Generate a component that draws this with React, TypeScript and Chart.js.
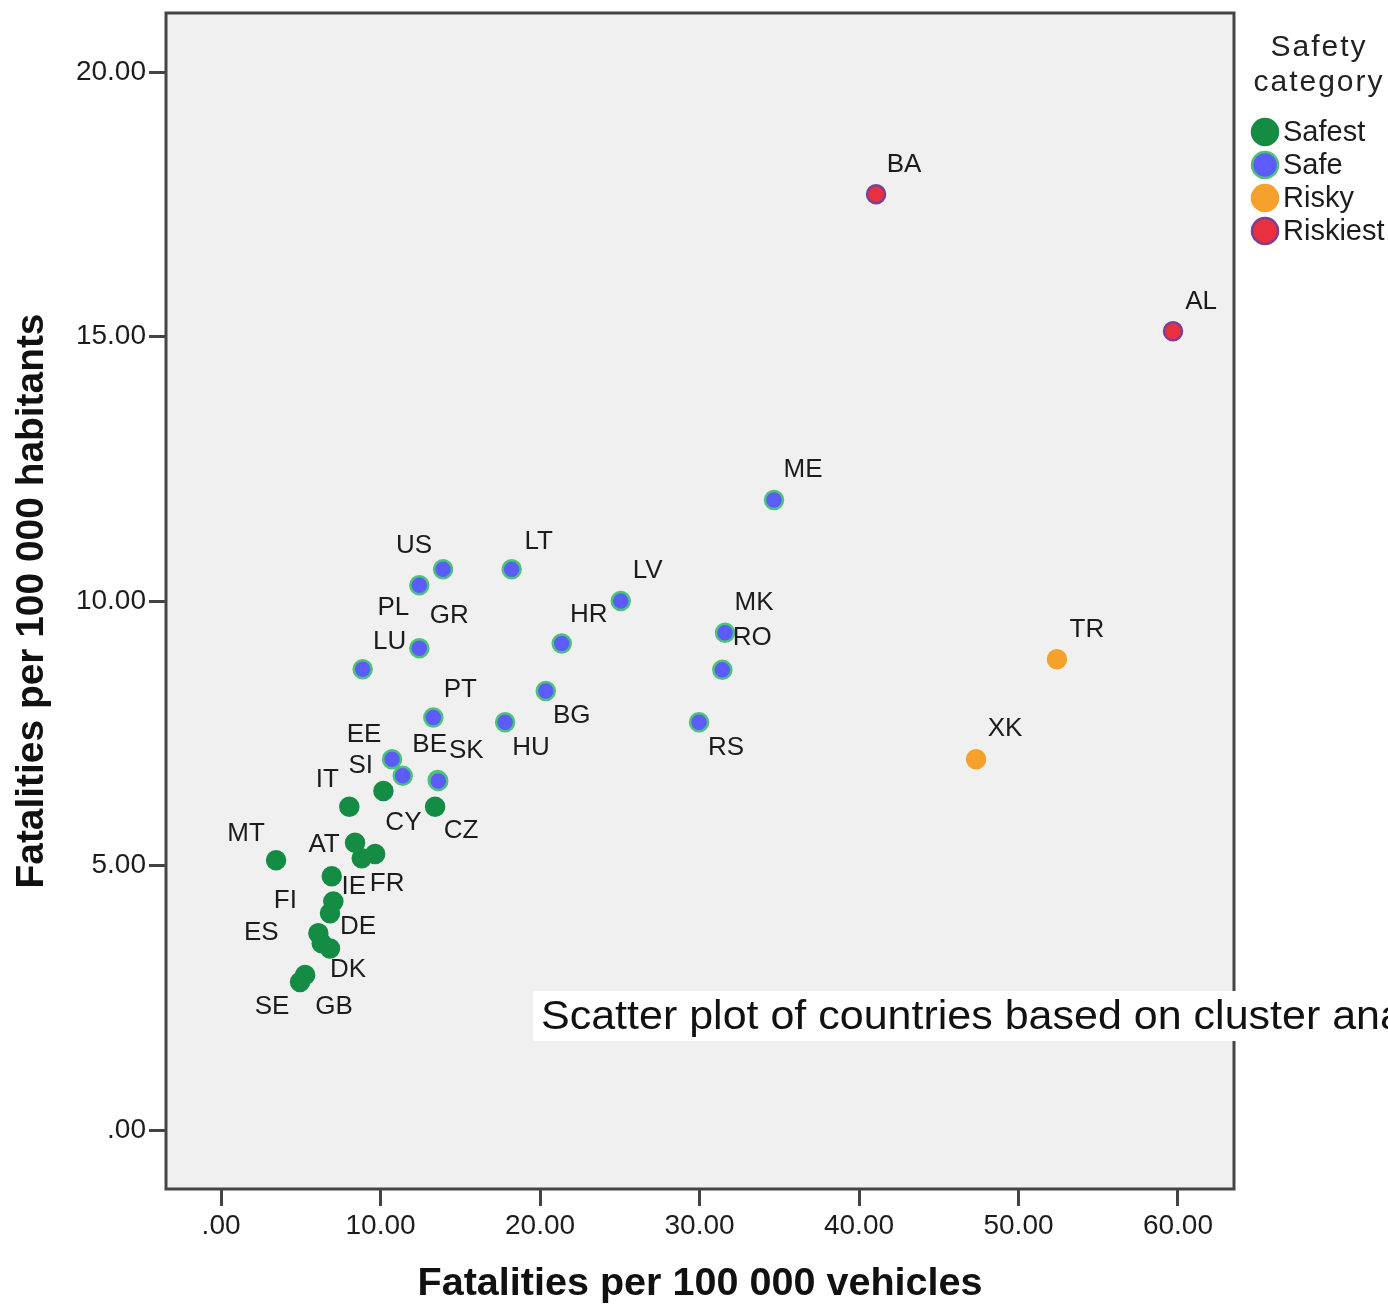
import React, { useEffect, useRef } from "react";
import { Chart, registerables } from "chart.js";

Chart.register(...registerables);

// ---- Data ----
const categories = ["Safest", "Safe", "Risky", "Riskiest"];

const safestCodes = ["IT", "CY", "CZ", "MT", "AT", "", "FR", "IE", "FI", "DE", "ES", "", "DK", "GB", "SE"];
const safestVehicles = [8.04, 10.18, 13.42, 3.45, 8.4, 8.82, 9.66, 6.94, 7.04, 6.83, 6.1, 6.31, 6.83, 5.27, 4.95];
const safestHabitants = [6.11, 6.41, 6.11, 5.1, 5.43, 5.14, 5.22, 4.8, 4.32, 4.1, 3.72, 3.53, 3.43, 2.93, 2.8];

const safeCodes = ["US", "PL", "GR", "LU", "LT", "LV", "HR", "BG", "HU", "MK", "RO", "RS", "ME", "PT", "EE", "SI", "BE", "SK"];
const safeVehicles = [13.92, 12.43, 12.43, 8.88, 18.22, 25.06, 21.36, 20.36, 17.81, 31.6, 31.43, 29.97, 34.67, 13.31, 10.72, 11.39, 13.58, 13.62];
const safeHabitants = [10.6, 10.3, 9.11, 8.71, 10.6, 10.0, 9.2, 8.3, 7.71, 9.4, 8.7, 7.71, 11.91, 7.8, 7.01, 6.7, 6.62, 6.6];

const riskyCodes = ["TR", "XK"];
const riskyVehicles = [52.41, 47.34];
const riskyHabitants = [8.9, 7.01];

const riskiestCodes = ["BA", "AL"];
const riskiestVehicles = [41.07, 59.69];
const riskiestHabitants = [17.69, 15.1];

const xTicks = [0, 10, 20, 30, 40, 50, 60];
const yTicks = [0, 5, 10, 15, 20];

const xTitle = "Fatalities per 100 000 vehicles";
const yTitle = "Fatalities per 100 000 habitants";
const legendTitle = ["Safety", "category"];
const note = "Scatter plot of countries based on cluster analysis";

// ---- Styles (label offsets in px relative to point) ----
const safestOffsets = [[-22, -27], [20, 32], [26, 24], [-30, -26], [-31, 2], [0, 0], [12, 30], [22, 11], [-48, -1], [28, 14], [-57, 0], [0, 0], [18, 21], [29, 32], [-28, 25]];
const safeOffsets = [[-29, -24], [-26, 23], [30, -32], [27, -28], [27, -28], [27, -30], [27, -29], [26, 25], [26, 26], [29, -30], [30, -32], [27, 26], [29, -30], [27, -28], [-28, -24], [-42, -10], [-8, -35], [28, -30]];
const riskyOffsets = [[30, -29], [29, -30]];
const riskiestOffsets = [[28, -30], [28, -30]];

const fills = ["#148c44", "#5b5cfb", "#f5a12c", "#e8303e"];
const borders = ["#148c44", "#4cc37a", "#f5a12c", "#7c3f98"];

const fmt = (v: number) => (v === 0 ? ".00" : v.toFixed(2));

export default function App() {
  const ref = useRef<HTMLCanvasElement | null>(null);

  useEffect(() => {
    document.body.style.margin = "0";
    const canvas = ref.current!;
    const groups = [
      { codes: safestCodes, xs: safestVehicles, ys: safestHabitants, offs: safestOffsets },
      { codes: safeCodes, xs: safeVehicles, ys: safeHabitants, offs: safeOffsets },
      { codes: riskyCodes, xs: riskyVehicles, ys: riskyHabitants, offs: riskyOffsets },
      { codes: riskiestCodes, xs: riskiestVehicles, ys: riskiestHabitants, offs: riskiestOffsets },
    ];

    const datasets = groups.map((g, k) => ({
      label: categories[k],
      data: g.xs.map((x, i) => ({ x, y: g.ys[i] })),
      backgroundColor: fills[k],
      borderColor: borders[k],
      borderWidth: 2.5,
      pointRadius: 9,
      pointHoverRadius: 9,
    }));

    const font = "'Liberation Sans', Arial, sans-serif";

    const decor = {
      id: "decor",
      beforeDraw(chart: any) {
        const { ctx, chartArea: a } = chart;
        ctx.save();
        ctx.fillStyle = "#ffffff";
        ctx.fillRect(0, 0, chart.width, chart.height);
        ctx.fillStyle = "#f0f0f0";
        ctx.fillRect(a.left, a.top, a.right - a.left, a.bottom - a.top);
        ctx.restore();
      },
      afterDatasetsDraw(chart: any) {
        const { ctx } = chart;
        ctx.save();
        ctx.font = `26px ${font}`;
        ctx.fillStyle = "#1c1c1c";
        ctx.textAlign = "center";
        ctx.textBaseline = "middle";
        groups.forEach((g, k) => {
          const meta = chart.getDatasetMeta(k);
          g.codes.forEach((c, i) => {
            if (!c) return;
            const p = meta.data[i];
            const o = g.offs[i];
            ctx.fillText(c, p.x + o[0], p.y + o[1]);
          });
        });
        ctx.restore();
      },
      afterDraw(chart: any) {
        const { ctx, chartArea: a } = chart;
        ctx.save();
        // plot border
        ctx.strokeStyle = "#444444";
        ctx.lineWidth = 3;
        ctx.strokeRect(a.left - 1, a.top - 1, a.right - a.left + 2, a.bottom - a.top + 2);

        // axis titles
        ctx.fillStyle = "#111111";
        ctx.font = `bold 39px ${font}`;
        ctx.textAlign = "center";
        ctx.textBaseline = "middle";
        const drawFit = (t: string, cx: number, cy: number, w: number, rot: number) => {
          const mw = ctx.measureText(t).width;
          ctx.save();
          ctx.translate(cx, cy);
          ctx.rotate(rot);
          ctx.scale(w / mw, 1);
          ctx.fillText(t, 0, 0);
          ctx.restore();
        };
        drawFit(xTitle, (a.left + a.right) / 2, 1284, 565, 0);
        drawFit(yTitle, 32, (a.top + a.bottom) / 2, 575, -Math.PI / 2);

        // legend
        ctx.font = `30px ${font}`;
        (ctx as any).letterSpacing = "2px";
        ctx.fillStyle = "#222222";
        ctx.fillText(legendTitle[0], 1319, 48);
        ctx.fillText(legendTitle[1], 1319, 83);
        (ctx as any).letterSpacing = "0px";
        ctx.font = `29px ${font}`;
        ctx.textAlign = "left";
        categories.forEach((c, k) => {
          const y = 132 + k * 33;
          ctx.beginPath();
          ctx.arc(1265, y, 13, 0, Math.PI * 2);
          ctx.fillStyle = fills[k];
          ctx.fill();
          ctx.lineWidth = 2.5;
          ctx.strokeStyle = borders[k];
          ctx.stroke();
          ctx.fillStyle = "#1c1c1c";
          ctx.fillText(c, 1283, y + 1);
        });

        // note box
        ctx.fillStyle = "#ffffff";
        ctx.fillRect(533, 991, chart.width - 533, 50);
        ctx.fillStyle = "#111111";
        ctx.font = `41px ${font}`;
        const partW = ctx.measureText("Scatter plot of countries based on cluster an").width;
        ctx.save();
        ctx.translate(541, 1018);
        ctx.scale(839 / partW, 1);
        ctx.textAlign = "left";
        ctx.fillText(note, 0, 0);
        ctx.restore();
        ctx.restore();
      },
    };

    const chart = new Chart(canvas, {
      type: "scatter",
      data: { datasets },
      options: {
        animation: false,
        responsive: false,
        devicePixelRatio: 1,
        layout: { padding: { top: 14, right: 155, left: 0, bottom: 0 } },
        plugins: { legend: { display: false }, tooltip: { enabled: false } },
        scales: {
          x: {
            type: "linear",
            min: -3.39,
            max: 63.45,
            afterBuildTicks: (s: any) => {
              s.ticks = xTicks.map((v) => ({ value: v }));
            },
            afterFit: (s: any) => {
              s.height = 118;
              s.paddingLeft = 0;
              s.paddingRight = 0;
            },
            ticks: {
              callback: (v: any) => fmt(Number(v)),
              font: { size: 28, family: font },
              color: "#1c1c1c",
              padding: 3,
              maxRotation: 0,
              autoSkip: false,
            },
            grid: { drawOnChartArea: false, drawTicks: true, tickLength: 18, tickColor: "#444444", tickWidth: 3 } as any,
            border: { display: false },
          },
          y: {
            type: "linear",
            min: -1.096,
            max: 21.1,
            afterBuildTicks: (s: any) => {
              s.ticks = yTicks.map((v) => ({ value: v }));
            },
            afterFit: (s: any) => {
              s.width = 167;
              s.paddingTop = 0;
              s.paddingBottom = 0;
            },
            ticks: {
              callback: (v: any) => fmt(Number(v)),
              font: { size: 28, family: font },
              color: "#1c1c1c",
              padding: 3,
              autoSkip: false,
            },
            grid: { drawOnChartArea: false, drawTicks: true, tickLength: 18, tickColor: "#444444", tickWidth: 3 } as any,
            border: { display: false },
          },
        },
      },
      plugins: [decor],
    } as any);

    return () => chart.destroy();
  }, []);

  return (
    <div style={{ width: 1388, height: 1306 }}>
      <canvas ref={ref} width={1388} height={1306} style={{ display: "block" }} />
    </div>
  );
}
